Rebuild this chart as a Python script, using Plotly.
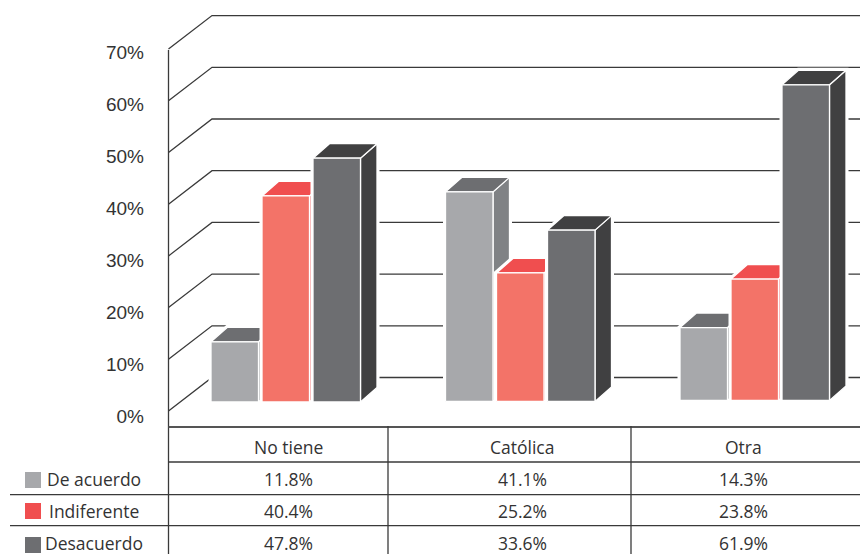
import plotly.graph_objects as go

# Survey results by religion
categories = ["No tiene", "Católica", "Otra"]
series_names = ["De acuerdo", "Indiferente", "Desacuerdo"]
de_acuerdo = [11.8, 41.1, 14.3]
indiferente = [40.4, 25.2, 23.8]
desacuerdo = [47.8, 33.6, 61.9]
axis_ticks = [0, 10, 20, 30, 40, 50, 60, 70]
axis_labels = ["0%", "10%", "20%", "30%", "40%", "50%", "60%", "70%"]

W, H = 860, 554
series_values = [de_acuerdo, indiferente, desacuerdo]
front_colors = ["#a7a8ab", "#f37368", "#6d6e71"]
top_colors = ["#6d6e71", "#f04e4f", "#404041"]
side_colors = ["#808285", "#f04e4f", "#404041"]
swatch_colors = ["#a7a8ab", "#f04e4f", "#6d6e71"]
ink = "#333333"
line_ink = "#3a3a3a"


def value_range(zero_px, px_per_unit):
    """Axis range that puts value 0 at a given distance from the top of the page."""
    return [(zero_px - H) / px_per_unit, zero_px / px_per_unit]


WALL_SCALE, WALL_ZERO = 5.17, 411.0
BAR_SCALE, BAR_ZERO = 5.1, 402.0
WALL_LEFT, WALL_BACK = 168.5, 212.0
WALL_LIFT = 33.5 / WALL_SCALE

BAR_WIDTH, BAR_STEP = 47.5, 51.0
GROUP_START, GROUP_STEP = 211.0, 234.5
DEPTH_X = 16.5
DEPTH_Y = 14.5 / BAR_SCALE
GROUP_LIFT = [0.0, 0.1, 0.3]

fig = go.Figure()

# Invisible carrier so the tick-label axis is rendered
fig.add_trace(go.Scatter(x=[WALL_LEFT] * len(axis_ticks), y=axis_ticks, mode="none",
                         xaxis="x", yaxis="y", showlegend=False, hoverinfo="skip"))


def polygon(xs, ys, fill, line="#ffffff", width=1.3):
    fig.add_trace(go.Scatter(
        x=xs + xs[:1], y=ys + ys[:1], mode="lines", fill="toself", fillcolor=fill,
        line=dict(color=line, width=width), xaxis="x", yaxis="y3",
        showlegend=False, hoverinfo="skip"))


# Back wall: each level runs from the left edge to the back and across the page
for t in axis_ticks:
    fig.add_trace(go.Scatter(
        x=[WALL_LEFT, WALL_BACK, W], y=[t, t + WALL_LIFT, t + WALL_LIFT],
        mode="lines", line=dict(color=line_ink, width=1.3), xaxis="x", yaxis="y2",
        showlegend=False, hoverinfo="skip"))

# Extruded bars, drawn left to right so each one covers the previous side face
for g in range(len(categories)):
    x0 = GROUP_START + g * GROUP_STEP
    base = GROUP_LIFT[g]
    for s, values in enumerate(series_values):
        left = x0 + s * BAR_STEP
        right = left + BAR_WIDTH
        top = base + values[g]
        # white halo keeps the wall lines clear of the bar
        polygon([left, right, right + DEPTH_X, right + DEPTH_X, left + DEPTH_X, left],
                [base, base, base + DEPTH_Y, top + DEPTH_Y, top + DEPTH_Y, top],
                "#ffffff", width=5)
        polygon([right, right + DEPTH_X, right + DEPTH_X, right],
                [base, base + DEPTH_Y, top + DEPTH_Y, top], side_colors[s])
        polygon([left, left + DEPTH_X, right + DEPTH_X, right],
                [top, top + DEPTH_Y, top + DEPTH_Y, top], top_colors[s])
        polygon([left, right, right, left], [base, base, top, top], front_colors[s])

# Table rules
shapes = []


def rule(x0, y0, x1, y1, color=line_ink, width=1.3):
    shapes.append(dict(type="line", xref="x", yref="paper", x0=x0, x1=x1,
                       y0=1 - y0 / H, y1=1 - y1 / H, line=dict(color=color, width=width),
                       layer="above"))


rule(WALL_LEFT, 50, WALL_LEFT, H)
rule(WALL_LEFT, 427, W, 427, "#555555", 1.8)
rule(WALL_LEFT, 462, W, 462)
rule(10, 494.7, W, 494.7)
rule(10, 525.7, W, 525.7)
rule(388, 426, 388, H)
rule(631, 426, 631, H)

# Legend swatches
swatch_tops = [472, 503, 537]
for top, color in zip(swatch_tops, swatch_colors):
    shapes.append(dict(type="rect", xref="x", yref="paper", x0=25, x1=41,
                       y0=1 - (top + 16) / H, y1=1 - top / H,
                       fillcolor=color, line=dict(width=0)))

# Table text
annotations = []
TABLE_FONT = dict(family="Open Sans", size=17.5, color=ink)


def cell(x, y, text):
    annotations.append(dict(xref="x", yref="paper", x=x, y=1 - y / H, text=text,
                            showarrow=False, font=TABLE_FONT,
                            xanchor="center", yanchor="middle"))


cell_x = [288, 522, 743]
row_y = [479, 511, 543]
for x, name in zip(cell_x, categories):
    cell(x, 447, name)
for y, name, values in zip(row_y, series_names, series_values):
    cell(94, y, name)
    for x, v in zip(cell_x, values):
        cell(x, y, f"{v:.1f}%")

fig.update_layout(
    width=W, height=H, margin=dict(l=0, r=0, t=0, b=0),
    paper_bgcolor="#ffffff", plot_bgcolor="#ffffff", showlegend=False,
    shapes=shapes, annotations=annotations,
    xaxis=dict(range=[0, W], visible=False, fixedrange=True),
    yaxis=dict(range=value_range(416, 5.2), tickvals=axis_ticks, ticktext=axis_labels,
               anchor="free", position=144 / W, side="left", showgrid=False,
               zeroline=False, showline=False, ticks="", fixedrange=True,
               tickfont=dict(family="Liberation Sans", size=19, color=ink)),
    yaxis2=dict(range=value_range(WALL_ZERO, WALL_SCALE), overlaying="y", visible=False,
                fixedrange=True),
    yaxis3=dict(range=value_range(BAR_ZERO, BAR_SCALE), overlaying="y", visible=False,
                fixedrange=True),
)

fig.write_html("out.html", config=dict(displayModeBar=False))
